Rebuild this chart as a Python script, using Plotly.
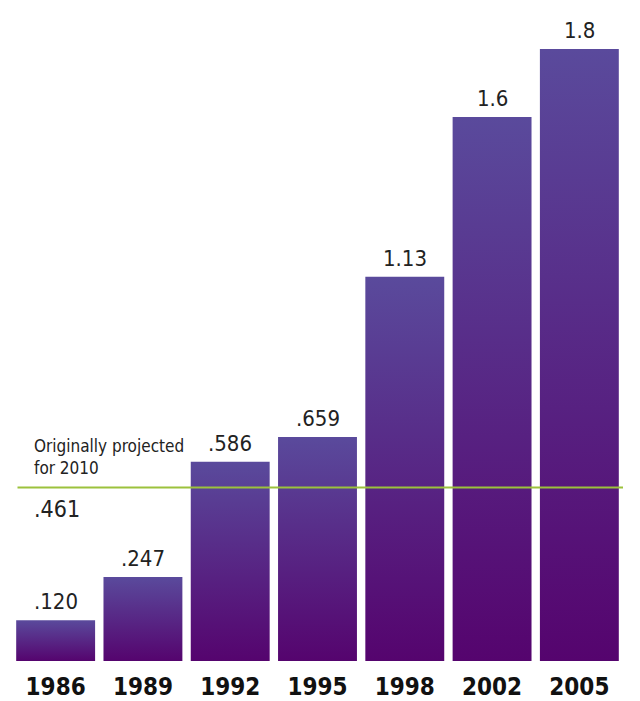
import plotly.graph_objects as go

years = ["1986", "1989", "1992", "1995", "1998", "2002", "2005"]
values = [0.120, 0.247, 0.586, 0.659, 1.13, 1.6, 1.8]
value_labels = [".120", ".247", ".586", ".659", "1.13", "1.6", "1.8"]

projection_label = ".461"
projection_note = "Originally projected<br>for 2010"
projection_line_level = 0.51  # position of the green line

BAR_HALF = 0.452
TOP_COLOR = "#5a4a9c"
BOTTOM_COLOR = "#55046e"
LINE_COLOR = "#9cc23c"
NARROW = "Liberation Sans Narrow, DejaVu Sans Condensed, Roboto, sans-serif"

fig = go.Figure()

for i, v in enumerate(values):
    fig.add_trace(go.Scatter(
        x=[i - BAR_HALF, i + BAR_HALF, i + BAR_HALF, i - BAR_HALF, i - BAR_HALF],
        y=[0, 0, v, v, 0],
        mode="lines",
        fill="toself",
        line=dict(width=0, color=TOP_COLOR),
        fillgradient=dict(type="vertical",
                          colorscale=[[0, BOTTOM_COLOR], [1, TOP_COLOR]]),
        hoverinfo="skip",
        showlegend=False,
    ))
    fig.add_annotation(x=i, y=v, xref="x", yref="y", text=value_labels[i],
                       showarrow=False, yanchor="bottom", yshift=4,
                       font=dict(family=NARROW, size=22, color="#222222"))

fig.add_shape(type="line", xref="paper", yref="y", x0=0.009, x1=1,
              y0=projection_line_level, y1=projection_line_level,
              line=dict(color=LINE_COLOR, width=2), layer="above")

fig.add_annotation(xref="paper", yref="y", x=0, xshift=20, y=projection_line_level,
                   yshift=8, xanchor="left", yanchor="bottom", align="left",
                   text=projection_note, showarrow=False,
                   font=dict(family=NARROW, size=17, color="#222222"))
fig.add_annotation(xref="paper", yref="y", x=0, xshift=20, y=projection_line_level,
                   yshift=-6, xanchor="left", yanchor="top", align="left",
                   text=projection_label, showarrow=False,
                   font=dict(family=NARROW, size=23, color="#222222"))

fig.update_xaxes(range=[-0.5, len(years) - 0.5],
                 tickvals=list(range(len(years))), ticktext=years,
                 showgrid=False, zeroline=False, showline=False,
                 ticks="outside", ticklen=4, tickcolor="rgba(0,0,0,0)",
                 tickfont=dict(family=NARROW, size=24, color="#111111",
                               weight="bold"),
                 automargin=False, fixedrange=True)
fig.update_yaxes(range=[0, 661 / 340], visible=False, showgrid=False,
                 zeroline=False, automargin=False, fixedrange=True)

fig.update_layout(width=640, height=701,
                  margin=dict(l=12, r=17, t=0, b=40),
                  plot_bgcolor="white", paper_bgcolor="white")

fig.write_html("out.html")
